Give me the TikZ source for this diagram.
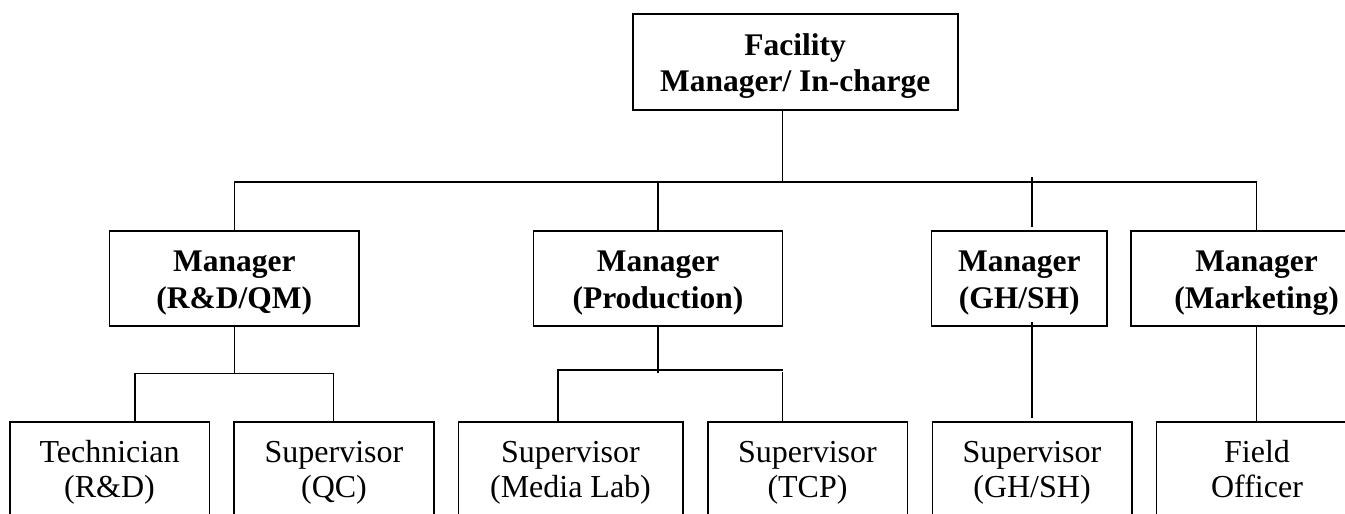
\documentclass[tikz,border=0pt]{standalone}
\usepackage{fontspec}
\setmainfont{Liberation Serif}
\begin{document}
\begin{tikzpicture}[x=1pt,y=-1pt,
  box/.style={draw, line width=1.6pt, inner sep=0pt, align=center, anchor=north,
    font=\fontsize{31.5}{36.5}\selectfont},
  mgr/.style={box, text height=77.3pt, text depth=18pt},
  sub/.style={box, text height=75.7pt, text depth=200pt, font=\fontsize{32}{35}\selectfont},
  con/.style={line width=1.6pt}]
\useasboundingbox (0,0) rectangle (1345,514);
\clip (0,0) rectangle (1345,514);
% top
\node[box, minimum width=325pt, text height=77.4pt, text depth=18.3pt] (top) at (795.2,13.3)
  {\textbf{Facility}\\\textbf{Manager/ In-charge}};
% managers
\node[mgr, minimum width=249.7pt] (m1) at (234.3,230) {\textbf{Manager}\\\textbf{(R\&D/QM)}};
\node[mgr, minimum width=249.3pt] (m2) at (658,230) {\textbf{Manager}\\\textbf{(Production)}};
\node[mgr, minimum width=175.3pt] (m3) at (1019.3,230) {\textbf{Manager}\\\textbf{(GH/SH)}};
\node[mgr, minimum width=251pt] (m4) at (1256.5,230) {\textbf{Manager}\\\textbf{(Marketing)}};
% subordinates
\node[sub, minimum width=199.6pt] (b1) at (109.5,421) {Technician\\(R\&D)};
\node[sub, minimum width=200pt] (b2) at (334,421) {Supervisor\\(QC)};
\node[sub, minimum width=224.4pt] (b3) at (570.5,421) {Supervisor\\(Media Lab)};
\node[sub, minimum width=199.6pt] (b4) at (807.5,421) {Supervisor\\(TCP)};
\node[sub, minimum width=199.4pt] (b5) at (1032,421) {Supervisor\\(GH/SH)};
\node[sub, minimum width=201pt] (b6) at (1257,421) {Field\\Officer};
% coordinates
\coordinate (bus) at (782.3,181.7);
\coordinate (g1) at (1032,177.3);
\coordinate (g2) at (1032,226.7);
\coordinate (g3) at (1032,321.7);
\coordinate (g4) at (1032,418.3);
\coordinate (s1) at (234.3,373.3);
\coordinate (s1l) at (134.7,373.3);
\coordinate (s1r) at (333.3,373.3);
\coordinate (s2) at (658,373.3);
\coordinate (s2l) at (558,370);
\coordinate (s2r) at (782.7,370);
\coordinate (s2b) at (782.3,372.3);
% connectors
\draw[con] (top.south -| bus) -- (bus);
\draw[con] (m1.north) -- (m1.north |- bus) -- (m4.north |- bus) -- (m4.north);
\draw[con] (m2.north) -- (m2.north |- bus);
\draw[con] (g1) -- (g2);
\draw[con] (g3) -- (g4);
\draw[con] (m1.south) -- (s1);
\draw[con] (b1.north -| s1l) -- (s1l) -- (s1r) -- (b2.north -| s1r);
\draw[con] (m2.south) -- (s2);
\draw[con] (b3.north -| s2l) -- (s2l) -- (s2r);
\draw[con] (s2b) -- (b4.north -| s2b);
\draw[con] (m4.south) -- (b6.north -| m4.south);
\end{tikzpicture}
\end{document}
